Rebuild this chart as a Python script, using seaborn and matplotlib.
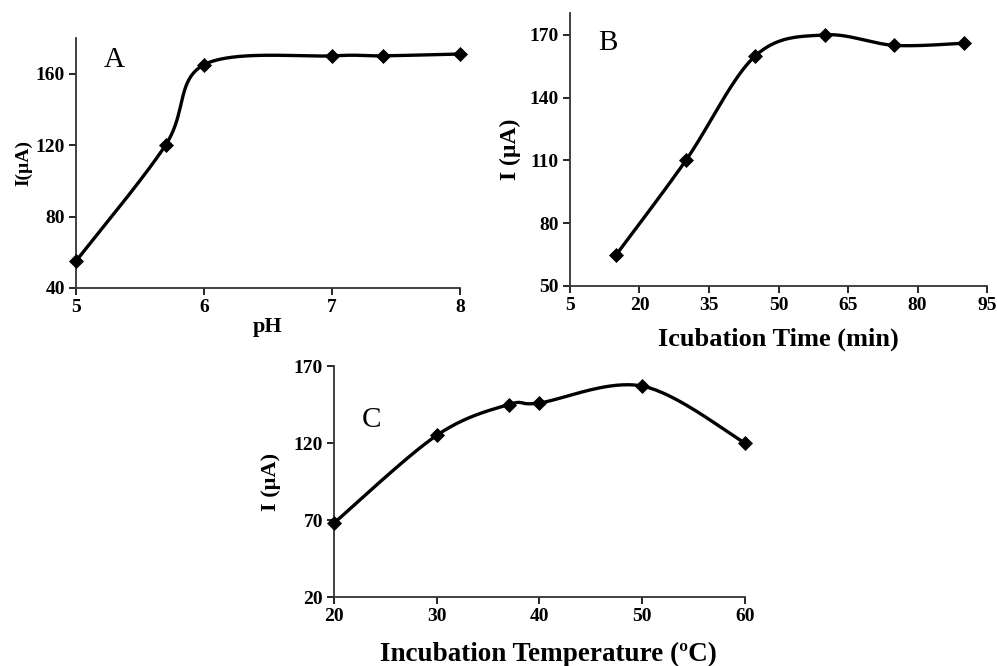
import numpy as np
import matplotlib
matplotlib.use("Agg")
import matplotlib.pyplot as plt
import seaborn as sns

# データ
ph = [5, 5.7, 6, 7, 7.4, 8]
current_ph = [55, 120, 165, 170, 170, 171]

time_min = [15, 30, 45, 60, 75, 90]
current_time = [65, 110, 160, 170, 165, 166]

temp_c = [20, 30, 37, 40, 50, 60]
current_temp = [68, 125, 145, 146, 157, 120]

sns.set_theme(style="ticks")
plt.rcParams['font.family'] = ['Liberation Serif', 'DejaVu Serif']
plt.rcParams['text.color'] = 'black'
plt.rcParams['axes.labelcolor'] = 'black'


def smooth_curve(x, y, n=40):
    # Excelの「平滑線」と同じ Catmull-Rom ベジェ曲線
    p = np.column_stack([x, y]).astype(float)
    p = np.vstack([p[0], p, p[-1]])
    t = np.linspace(0, 1, n)[:, None]
    segs = []
    for i in range(1, len(p) - 2):
        p0, p3 = p[i], p[i + 1]
        c1 = p0 + (p[i + 1] - p[i - 1]) / 6
        c2 = p3 - (p[i + 2] - p[i]) / 6
        segs.append((1 - t) ** 3 * p0 + 3 * (1 - t) ** 2 * t * c1
                    + 3 * (1 - t) * t ** 2 * c2 + t ** 3 * p3)
    c = np.vstack(segs)
    return c[:, 0], c[:, 1]


def draw_panel(ax, x, y, xlim, ylim, xticks, yticks, xlabel, ylabel,
               letter, letter_pos, xlab_size, ylab_size, xpad, ypad):
    cx, cy = smooth_curve(x, y)
    sns.lineplot(x=cx, y=cy, sort=False, estimator=None, ax=ax,
                 color="black", linewidth=2.4)
    sns.scatterplot(x=x, y=y, ax=ax, marker="D", s=50, color="black",
                    edgecolor="black", zorder=3, legend=False)
    for coll in ax.collections:
        coll.set_clip_on(False)
    ax.set_xlim(*xlim)
    ax.set_ylim(*ylim)
    ax.set_xticks(xticks)
    ax.set_yticks(yticks)
    for s in ["top", "right"]:
        ax.spines[s].set_visible(False)
    for s in ["left", "bottom"]:
        ax.spines[s].set_color("#333333")
        ax.spines[s].set_linewidth(1.3)
    ax.tick_params(direction="out", length=5, width=1.2, pad=3,
                   labelsize=14, colors="black")
    for lab in ax.get_xticklabels() + ax.get_yticklabels():
        lab.set_fontweight("bold")
    ax.set_xlabel(xlabel, fontsize=xlab_size, fontweight="bold", labelpad=xpad)
    ax.set_ylabel(ylabel, fontsize=ylab_size, fontweight="bold", labelpad=ypad)
    ax.text(letter_pos[0], letter_pos[1], letter, transform=ax.transAxes,
            fontsize=21, ha="center", va="center")
    ax.grid(False)


fig = plt.figure(figsize=(9.97, 6.66), dpi=100)
ax_a = fig.add_axes([0.0762, 0.5676, 0.3852, 0.3754])
ax_b = fig.add_axes([0.5717, 0.5706, 0.4183, 0.4100])
ax_c = fig.add_axes([0.3350, 0.1036, 0.4122, 0.3468])

draw_panel(ax_a, ph, current_ph, (5, 8), (40, 180), [5, 6, 7, 8],
           [40, 80, 120, 160], "pH", "I(µA)", "A", (0.10, 0.91),
           16, 14, 1, 2)
draw_panel(ax_b, time_min, current_time, (5, 95), (50, 180.5),
           [5, 20, 35, 50, 65, 80, 95], [50, 80, 110, 140, 170],
           "Icubation Time (min)", "I (µA)", "B", (0.091, 0.89),
           19, 17, 10, 6)
draw_panel(ax_c, temp_c, current_temp, (20, 60), (20, 170),
           [20, 30, 40, 50, 60], [20, 70, 120, 170],
           "Incubation Temperature (ºC)", "I (µA)", "C", (0.092, 0.766),
           19.5, 16, 12, 9)
# Cのx軸ラベルは少し右寄り
ax_c.xaxis.label.set_x(0.523)

fig.savefig("out.png", dpi=100, facecolor="white")
